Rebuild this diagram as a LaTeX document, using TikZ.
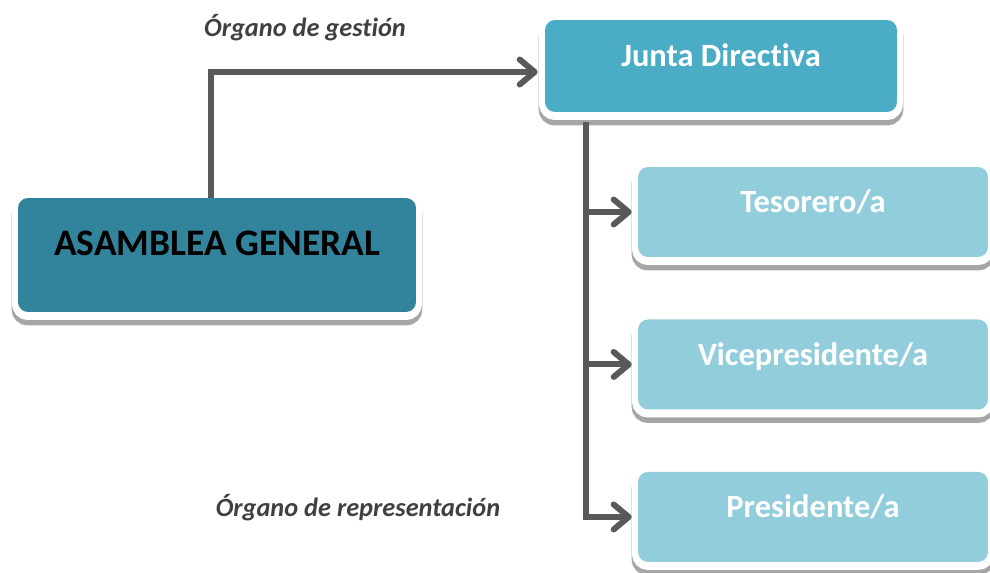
\documentclass[tikz,border=0pt]{standalone}
\usepackage{fontspec}
\setmainfont{Carlito}[Ligatures=NoCommon]
\usetikzlibrary{arrows.meta, positioning, shadows}

\definecolor{tealdark}{HTML}{31849B}
\definecolor{tealmid}{HTML}{4BACC6}
\definecolor{teallight}{HTML}{92CDDC}
\definecolor{linegray}{HTML}{595959}
\definecolor{textgray}{HTML}{404040}

\begin{document}
\begin{tikzpicture} [
						x=0.02cm, y=-0.02cm,
						node distance=3.05cm,
						box/.style={rounded corners=0.2cm, inner sep=0pt,
							general shadow={fill=black!35, draw=black!35, line width=0.26cm, shadow yshift=-0.14cm},
							general shadow={fill=white, draw=white, line width=0.24cm, shadow yshift=-0.04cm},
							fill=#1, font=\bfseries\fontsize{18.5}{22}\selectfont, text=white,
							text height=10pt, text depth=9pt},
						sub/.style={box=teallight, minimum width=7cm, minimum height=1.8cm},
						conn/.style={draw=linegray, line width=0.12cm,
							-{Straight Barb[length=0.3cm, width=0.5cm, round]}},
						tag/.style={font=\bfseries\itshape\fontsize{15}{18}\selectfont, text=textgray}
					]

\useasboundingbox (0,0) rectangle (990,572);

\node (asamblea) [box=tealdark, minimum width=7.96cm, minimum height=2.28cm, text=black,
	font=\bfseries\fontsize{21.3}{26}\selectfont, text height=12pt, text depth=11pt] at (217,255) {ASAMBLEA GENERAL};
\node (junta) [box=tealmid, minimum width=7.04cm, minimum height=1.84cm] at (721,66) {Junta Directiva};
\node (tesorero) [sub] at (813,212) {Tesorero/a};
\node (vice) [sub, below of=tesorero] {Vicepresidente/a};
\node (presidente) [sub, below of=vice] {Presidente/a};

\node (gestion) [tag] at (305,28) {Órgano de gestión};
\node (representacion) [tag] at (358,508) {Órgano de representación};

\coordinate (trunk) at ([xshift=0.82cm, yshift=-0.2cm]junta.south west);

\draw[conn, shorten >=0.14cm] ([xshift=-0.12cm]asamblea.north) |- ([yshift=-0.12cm]junta.west);
\draw[conn, shorten >=0.12cm] (trunk) |- (tesorero.west);
\draw[conn, shorten >=0.12cm] (trunk) |- (vice.west);
\draw[conn, shorten >=0.12cm] (trunk) |- (presidente.west);

\end{tikzpicture}
\end{document}
